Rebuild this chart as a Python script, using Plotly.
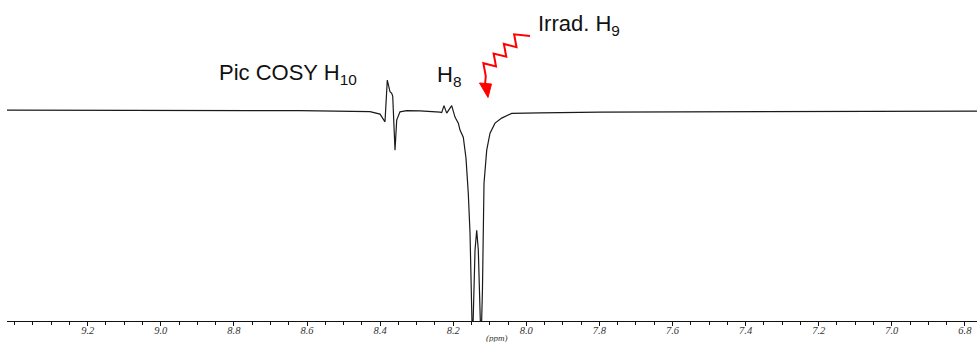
import math
import plotly.graph_objects as go

# Chemical shift (ppm) and intensity (a.u.)
ppm = [9.4208, 9.30, 9.1663, 9.05, 8.8927, 8.75, 8.6191, 8.50, 8.4276, 8.4002,
       8.3956, 8.3866, 8.3803, 8.3729, 8.3683, 8.3655, 8.3592, 8.3546, 8.3456,
       8.3272, 8.2908, 8.2451, 8.2361, 8.2315, 8.2252, 8.2178, 8.2041, 8.1951,
       8.1860, 8.1814, 8.1724, 8.1650, 8.1587, 8.1540, 8.1513, 8.1472, 8.1403,
       8.1357, 8.1313, 8.1239, 8.1200, 8.1179, 8.1157, 8.1083, 8.0993, 8.0856,
       8.0673, 8.0400, 8.0090, 7.9625, 7.7984, 7.5248, 7.2512, 6.9776, 6.7669]
intensity = [1.0, 0.8, 1.0, 0.6, 0.7, 0.4, 0.5, 0.0, -0.5, -3.0,
             -5.7, -10.7, 31.0, 19.3, 17.7, 15.0, -39.0, -9.0, -0.7,
             0.5, 0.3, -0.5, -1.0, -1.5, 5.5, -2.0, 5.5, -6.0,
             -12.0, -19.0, -26.0, -47.0, -82.3, -122.0, -172.0, -234.0, -139.0,
             -119.0, -139.0, -234.0, -179.0, -122.0, -72.0, -39.0, -22.0, -12.0,
             -7.0, -2.3, -2.0, -1.8, -1.0, -0.7, -0.5, -0.3, 0.0]

tick_values = [9.2, 9.0, 8.8, 8.6, 8.4, 8.2, 8.0, 7.8, 7.6, 7.4, 7.2, 7.0, 6.8]
tick_labels = ["9.2", "9.0", "8.8", "8.6", "8.4", "8.2", "8.0", "7.8", "7.6",
               "7.4", "7.2", "7.0", "6.8"]

x_range = [9.4208, 6.7669]
y_range = [-209.7, 111.0]
minor_step = 0.05

W, H = 977, 342
ML, MR, MT, MB = 7, 0, 0, 21
PW, PH = W - ML - MR, H - MT - MB


def px(x):
    return (x - ML) / PW


def py(y):
    return (MT + PH - y) / PH


fig = go.Figure(go.Scatter(x=ppm, y=intensity, mode="lines",
                           line=dict(color="#1a1a1a", width=1.2),
                           hoverinfo="skip"))

label_font = dict(family="Arial, Liberation Sans, sans-serif", size=22, color="#111")
annotations = [
    dict(text="Pic COSY H<sub>10</sub>", x=px(217), y=py(74), xref="paper", yref="paper",
         xanchor="left", yanchor="middle", showarrow=False, font=label_font),
    dict(text="H<sub>8</sub>", x=px(435), y=py(76), xref="paper", yref="paper",
         xanchor="left", yanchor="middle", showarrow=False, font=label_font),
    dict(text="Irrad. H<sub>9</sub>", x=px(536), y=py(25), xref="paper", yref="paper",
         xanchor="left", yanchor="middle", showarrow=False, font=label_font),
    dict(text="(ppm)", x=px(497), y=py(338), xref="paper", yref="paper",
         xanchor="center", yanchor="middle", showarrow=False,
         font=dict(family="Liberation Serif, Times New Roman, serif", size=9,
                   color="#333", style="italic")),
]

# decorative irradiation squiggle (pixel geometry of the annotation)
ox, oy = 523.0, 33.5
ex, ey = 482.0, 72.0
L = math.hypot(ex - ox, ey - oy)
ux, uy = (ex - ox) / L, (ey - oy) / L
nx, ny = -uy, ux
nx, ny = (nx, ny) if nx > 0 else (-nx, -ny)
pts = [(530, 36)]
nseg = 8
for k in range(1, nseg + 1):
    s = L * k / nseg
    sgn = -1 if k % 2 == 1 else 1
    pts.append((ox + ux * s + sgn * 5.5 * nx, oy + uy * s + sgn * 5.5 * ny))
pts.append((485, 85))
path = "M " + " L ".join(f"{px(a):.5f},{py(b):.5f}" for a, b in pts)
head = [(479.5, 83), (491.5, 84), (488, 97.5)]
hpath = "M " + " L ".join(f"{px(a):.5f},{py(b):.5f}" for a, b in head) + " Z"

shapes = [
    dict(type="path", path=path, xref="paper", yref="paper",
         line=dict(color="#ff0000", width=2)),
    dict(type="path", path=hpath, xref="paper", yref="paper",
         line=dict(color="#ff0000", width=1), fillcolor="#ff0000"),
]

fig.update_layout(
    width=W, height=H,
    margin=dict(l=ML, r=MR, t=MT, b=MB, pad=0),
    plot_bgcolor="white", paper_bgcolor="white",
    showlegend=False,
    annotations=annotations,
    shapes=shapes,
    xaxis=dict(range=x_range, tickmode="array", tickvals=tick_values, ticktext=tick_labels,
               ticks="outside", ticklen=4, tickcolor="#111", tickwidth=1,
               showline=True, linecolor="#111", linewidth=1,
               showgrid=False, zeroline=False, ticklabelstandoff=-5,
               tickfont=dict(family="Liberation Serif, Times New Roman, serif",
                             size=10.5, color="#333", style="italic"),
               minor=dict(tickmode="linear", dtick=minor_step, tick0=6.8, ticks="outside",
                          ticklen=3, tickcolor="#111", showgrid=False)),
    yaxis=dict(range=y_range, visible=False, showgrid=False, zeroline=False),
)

fig.write_html("out.html", config={"displayModeBar": False},
               post_script="document.body.style.margin='0';document.body.style.overflow='hidden';")
